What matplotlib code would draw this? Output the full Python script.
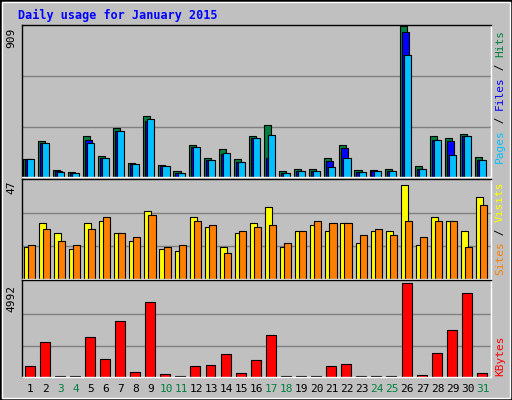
import matplotlib
matplotlib.use('Agg')
import matplotlib.pyplot as plt
import matplotlib.patches as mpatches
import numpy as np

days = list(range(1, 32))
weekend = [3, 4, 10, 11, 17, 18, 24, 25, 31]

hits = [107, 216, 40, 28, 246, 125, 295, 83, 368, 71, 34, 192, 113, 168, 107, 246,
        313, 34, 46, 46, 113, 192, 40, 40, 46, 909, 65, 246, 234, 259, 119]
files = [107, 204, 36, 24, 222, 113, 277, 77, 339, 65, 22, 180, 101, 139, 89, 234,
         113, 22, 34, 34, 95, 174, 28, 34, 34, 871, 46, 222, 216, 246, 101]
pages = [107, 204, 32, 22, 204, 113, 277, 77, 349, 65, 22, 180, 101, 143, 89, 234,
         252, 22, 34, 34, 59, 113, 28, 34, 34, 731, 46, 222, 131, 246, 101]

visits = [16, 28, 23, 15, 28, 29, 23, 19, 34, 15, 14, 31, 26, 16, 23, 28,
          36, 16, 24, 27, 24, 28, 18, 24, 24, 47, 17, 31, 29, 24, 41]
sites = [17, 25, 19, 17, 25, 31, 23, 21, 32, 16, 17, 29, 27, 13, 24, 26,
         27, 18, 24, 29, 28, 28, 22, 25, 22, 29, 21, 29, 29, 16, 37]

kbytes = [563, 1870, 50, 50, 2142, 944, 2959, 290, 3993, 180, 50, 563, 617, 1216, 236, 889,
          2251, 50, 50, 50, 563, 672, 50, 50, 50, 4992, 127, 1270, 2468, 4429, 236]

W, H = 512, 400
gray = '#C0C0C0'
fig = plt.figure(figsize=(W/100, H/100), dpi=100, facecolor=gray)
mono = 'DejaVu Sans Mono'

# outer border
fig.patches.append(mpatches.Rectangle((0, 0), 1, 1, transform=fig.transFigure,
                                      fill=False, edgecolor='black', linewidth=2))
fig.patches.append(mpatches.Rectangle((2/W, 2/H), 1 - 4/W, 1 - 4/H, transform=fig.transFigure,
                                      fill=False, edgecolor='white', linewidth=1))

def make_ax(top, bottom):
    ax = fig.add_axes([22/W, 1 - bottom/H, (491 - 22)/W, (bottom - top)/H])
    ax.set_facecolor(gray)
    ax.set_xlim(0.45, 31.55)
    for s in ['left', 'top']:
        ax.spines[s].set_color('black')
    for s in ['right', 'bottom']:
        ax.spines[s].set_color('white')
    for s in ax.spines.values():
        s.set_linewidth(1)
    ax.set_xticks([])
    ax.set_yticks([])
    return ax

x = np.array(days)
bw = 0.47

ax1 = make_ax(25, 177)
ax1.set_ylim(0, 909 * 1.005)
for g in [303, 606]:
    ax1.axhline(g, color='#808080', linewidth=1, zorder=0)
ax1.bar(x - 0.27, hits, bw, color='#008040', edgecolor='black', linewidth=0.8)
ax1.bar(x - 0.14, files, bw, color='#0000FF', edgecolor='black', linewidth=0.8)
ax1.bar(x + 0.0, pages, bw, color='#00C0FF', edgecolor='black', linewidth=0.8)

ax2 = make_ax(179, 279)
ax2.set_ylim(0, 47 * 1.06)
for g in [16.5, 33]:
    ax2.axhline(g, color='#808080', linewidth=1, zorder=0)
ax2.bar(x - 0.2, visits, bw, color='#FFFF00', edgecolor='black', linewidth=0.8)
ax2.bar(x + 0.07, sites, bw, color='#FF8000', edgecolor='black', linewidth=0.8)

ax3 = make_ax(280, 377)
ax3.set_ylim(0, 4992 * 1.03)
for g in [1664, 3328]:
    ax3.axhline(g, color='#808080', linewidth=1, zorder=0)
ax3.bar(x - 0.05, kbytes, 0.66, color='#FF0000', edgecolor='black', linewidth=0.8)

# max labels
fig.text(11/W, 1 - 38/H, '909', rotation=90, ha='center', va='center', family=mono, fontsize=8)
fig.text(11/W, 1 - 187/H, '47', rotation=90, ha='center', va='center', family=mono, fontsize=8)
fig.text(11/W, 1 - 298/H, '4992', rotation=90, ha='center', va='center', family=mono, fontsize=8)

# title
fig.text(18/W, 1 - 15/H, 'Daily usage for January 2015', color='#0000FF', family=mono,
         fontsize=8.5, fontweight='bold', va='center')

# right-side labels
def side_label(parts, ybottom):
    y = ybottom
    for txt, col in parts:
        fig.text(500/W, y/H, txt, rotation=90, color=col, family=mono, fontsize=8,
                 ha='center', va='bottom')
        y += len(txt) * 6.6
side_label([('Pages', '#00C0FF'), (' / ', 'black'), ('Files', '#0000FF'), (' / ', 'black'),
            ('Hits', '#008040')], H - 163)
side_label([('Sites', '#FF8000'), (' / ', 'black'), ('Visits', '#FFFF00')], H - 275)
side_label([('KBytes', '#FF0000')], H - 376)

# day labels
for d in days:
    xp = 22 + (d - 0.45) / 31.1 * (491 - 22)
    fig.text(xp/W, 1 - 389/H, str(d), ha='center', va='center', family=mono, fontsize=8,
             color='#008040' if d in weekend else 'black')

plt.savefig('out.png', dpi=100, facecolor=gray)
